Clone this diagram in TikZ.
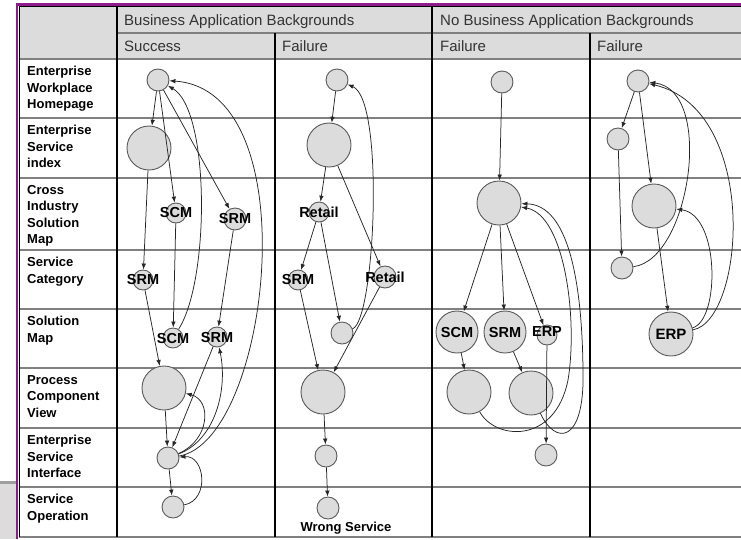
\documentclass[tikz,border=0pt]{standalone}
\usepackage{fontspec}
\setmainfont{Liberation Sans}
\usetikzlibrary{arrows.meta}
\definecolor{hdrfill}{HTML}{DCDCDC}
\definecolor{nodefill}{HTML}{DCDCDC}
\definecolor{nodedraw}{HTML}{5A5A5A}
\definecolor{rowline}{HTML}{808080}
\definecolor{framecol}{HTML}{8E1A8E}
\definecolor{hdrtext}{HTML}{333333}
\tikzset{
  vtx/.style={circle, draw=nodedraw, fill=nodefill, line width=0.9pt, inner sep=0pt, minimum size=#1},
  vtx/.default=22pt,
  lbl/.style={font=\fontsize{14.5}{15}\selectfont\bfseries, text=black, inner sep=0pt},
  conn/.style={draw=black!85, line width=0.75pt, -{Latex[length=6pt,width=4.5pt]}},
  rowlab/.style={anchor=north west, align=left, inner sep=0pt, font=\fontsize{13}{16.5}\selectfont\bfseries},
  hdr/.style={anchor=base west, inner sep=0pt, font=\fontsize{15}{17}\selectfont, text=hdrtext},
  rowrule/.style={draw=rowline, line width=1.8pt},
  colrule/.style={draw=black, line width=1.1pt},
}
\begin{document}
\begin{tikzpicture}[x=1pt,y=-1pt]
\useasboundingbox (0,0) rectangle (741,539);
% header background
\fill[hdrfill] (19,6) rectangle (741,59);
% bottom-left gray box
\fill[hdrfill] (0,482) rectangle (16,539);
\draw[gray!75, line width=3pt] (0,482) -- (16,482);
% row rules
\draw[rowrule] (117,33) -- (741,33);
\foreach \yy in {59,118,178,250,309,368,428,487,537} {\draw[rowrule] (19,\yy) -- (741,\yy);}
% column rules
\draw[colrule] (117,6) -- (117,537);
\draw[colrule] (275,33) -- (275,537);
\draw[colrule] (432,6) -- (432,537);
\draw[colrule] (590,33) -- (590,537);
\draw[black, line width=1pt] (19.5,537) -- (19.5,6.5) -- (741,6.5);
% purple frame
\draw[framecol, line width=2.6pt] (17,539) -- (17,4.3) -- (741,4.3);
% headers
\node[hdr] (h1) at (124,25.5) {Business Application Backgrounds};
\node[hdr] (h2) at (440,25.5) {No Business Application Backgrounds};
\node[hdr] (h3) at (124,51.5) {Success};
\node[hdr] (h4) at (282,51.5) {Failure};
\node[hdr] (h5) at (440,51.5) {Failure};
\node[hdr] (h6) at (597,51.5) {Failure};
% row labels
\node[rowlab] (r1) at (27,66) {Enterprise\\Workplace\\Homepage};
\node[rowlab] (r2) at (27,125) {Enterprise\\Service\\index};
\node[rowlab] (r3) at (27,185) {Cross\\Industry\\Solution\\Map};
\node[rowlab] (r4) at (27,257) {Service\\Category};
\node[rowlab] (r5) at (27,316) {Solution\\Map};
\node[rowlab] (r6) at (27,375) {Process\\Component\\View};
\node[rowlab] (r7) at (27,435) {Enterprise\\Service\\Interface};
\node[rowlab] (r8) at (27,494) {Service\\Operation};
% ---- Success column
\node[vtx=22pt] (S1) at (158,80) {};
\node[vtx=44pt] (S2) at (149,148) {};
\node[vtx=20pt] (S3) at (176,213) {};
\node[vtx=22pt] (S4) at (235,219) {};
\node[vtx=20pt] (S5) at (143,280) {};
\node[vtx=20pt] (S6) at (173,338) {};
\node[vtx=20pt] (S7) at (217,337) {};
\node[vtx=44pt] (S8) at (164,388) {};
\node[vtx=22pt] (S9) at (168,458) {};
\node[vtx=22pt] (S10) at (173,507) {};
% ---- Failure column (BAB)
\node[vtx=22pt] (F1) at (337,80) {};
\node[vtx=44pt] (F2) at (329,145) {};
\node[vtx=20pt] (F3) at (319,212) {};
\node[vtx=20pt] (F4) at (298,280) {};
\node[vtx=22pt] (F5) at (385,277) {};
\node[vtx=22pt] (F6) at (342,333) {};
\node[vtx=44pt] (F7) at (323,392) {};
\node[vtx=22pt] (F8) at (326,456) {};
\node[vtx=22pt] (F9) at (328,508) {};
\node[font=\fontsize{13}{14}\selectfont\bfseries, inner sep=0pt] (ws) at (346,528) {Wrong Service};
% ---- No BAB failure 1
\node[vtx=22pt] (N1) at (502,82) {};
\node[vtx=44pt] (N2) at (499,203) {};
\node[vtx=42pt] (N3) at (457,332) {};
\node[vtx=42pt] (N4) at (505,332) {};
\node[vtx=20pt] (N5) at (547,335) {};
\node[vtx=44pt] (N6) at (469,392) {};
\node[vtx=44pt] (N7) at (531,393) {};
\node[vtx=22pt] (N8) at (546,455) {};
% ---- No BAB failure 2
\node[vtx=22pt] (M1) at (638,81) {};
\node[vtx=22pt] (M2) at (618,139) {};
\node[vtx=44pt] (M3) at (654,206) {};
\node[vtx=22pt] (M4) at (622,268) {};
\node[vtx=44pt] (M5) at (671,334) {};
% ---- edges Success
\draw[conn] (S1) -- (S2);
\draw[conn] (S1) -- (S3);
\draw[conn] (S1) -- (S4);
\draw[conn] (S2) -- (S5);
\draw[conn] (S3) -- (S6);
\draw[conn] (S4) -- (S7);
\draw[conn] (S5) -- (S8);
\draw[conn] (S7) -- (S9);
\draw[conn] (S8) -- (S9);
\draw[conn] (S9) -- (S10);
\draw[conn] (S6) .. controls (210,280) and (210,110) .. (S1);
\draw[conn] (S9) .. controls (270,440) and (310,90) .. (S1);
\draw[conn] (S9) .. controls (215,440) and (228,390) .. (S7);
\draw[conn] (S9) .. controls (210,440) and (212,400) .. (S8);
\draw[conn] (S10) .. controls (210,500) and (205,455) .. (S9);
% ---- edges Failure
\draw[conn] (F1) -- (F2);
\draw[conn] (F2) -- (F3);
\draw[conn] (F2) -- (F5);
\draw[conn] (F3) -- (F4);
\draw[conn] (F3) -- (F6);
\draw[conn] (F4) -- (F7);
\draw[conn] (F5) -- (F7);
\draw[conn] (F7) -- (F8);
\draw[conn] (F8) -- (F9);
\draw[conn] (F6) .. controls (375,320) and (385,100) .. (F1);
% ---- edges No BAB 1
\draw[conn] (N1) -- (N2);
\draw[conn] (N2) -- (N3);
\draw[conn] (N2) -- (N4);
\draw[conn] (N2) -- (N5);
\draw[conn] (N3) -- (N6);
\draw[conn] (N4) -- (N7);
\draw[conn] (N5) -- (N8);
\draw[conn] (N6) .. controls (495,440) and (555,445) .. (568,380) .. controls (578,320) and (565,215) .. (N2);
\draw[conn] (N7) .. controls (555,445) and (585,445) .. (583,370) .. controls (582,280) and (568,205) .. (N2);
% ---- edges No BAB 2
\draw[conn] (M1) -- (M2);
\draw[conn] (M1) -- (M3);
\draw[conn] (M2) -- (M4);
\draw[conn] (M3) -- (M5);
\draw[conn] (M4) .. controls (690,260) and (715,90) .. (M1);
\draw[conn] (M5) .. controls (720,320) and (720,215) .. (M3);
\draw[conn] (M5) .. controls (745,320) and (760,110) .. (M1);
% ---- node labels (on top)
\node[lbl] (lS3) at (S3) {SCM};
\node[lbl] (lS4) at (S4) {SRM};
\node[lbl] (lS5) at (S5) {SRM};
\node[lbl] (lS6) at (S6) {SCM};
\node[lbl] (lS7) at (S7) {SRM};
\node[lbl] (lF3) at (F3) {Retail};
\node[lbl] (lF4) at (F4) {SRM};
\node[lbl] (lF5) at (F5) {Retail};
\node[lbl] (lN3) at (N3) {SCM};
\node[lbl] (lN4) at (N4) {SRM};
\node[lbl] (lN5) at ([yshift=3pt]N5.center) {ERP};
\node[lbl, font=\fontsize{15}{16}\selectfont\bfseries] (lM5) at (M5) {ERP};
\end{tikzpicture}
\end{document}
